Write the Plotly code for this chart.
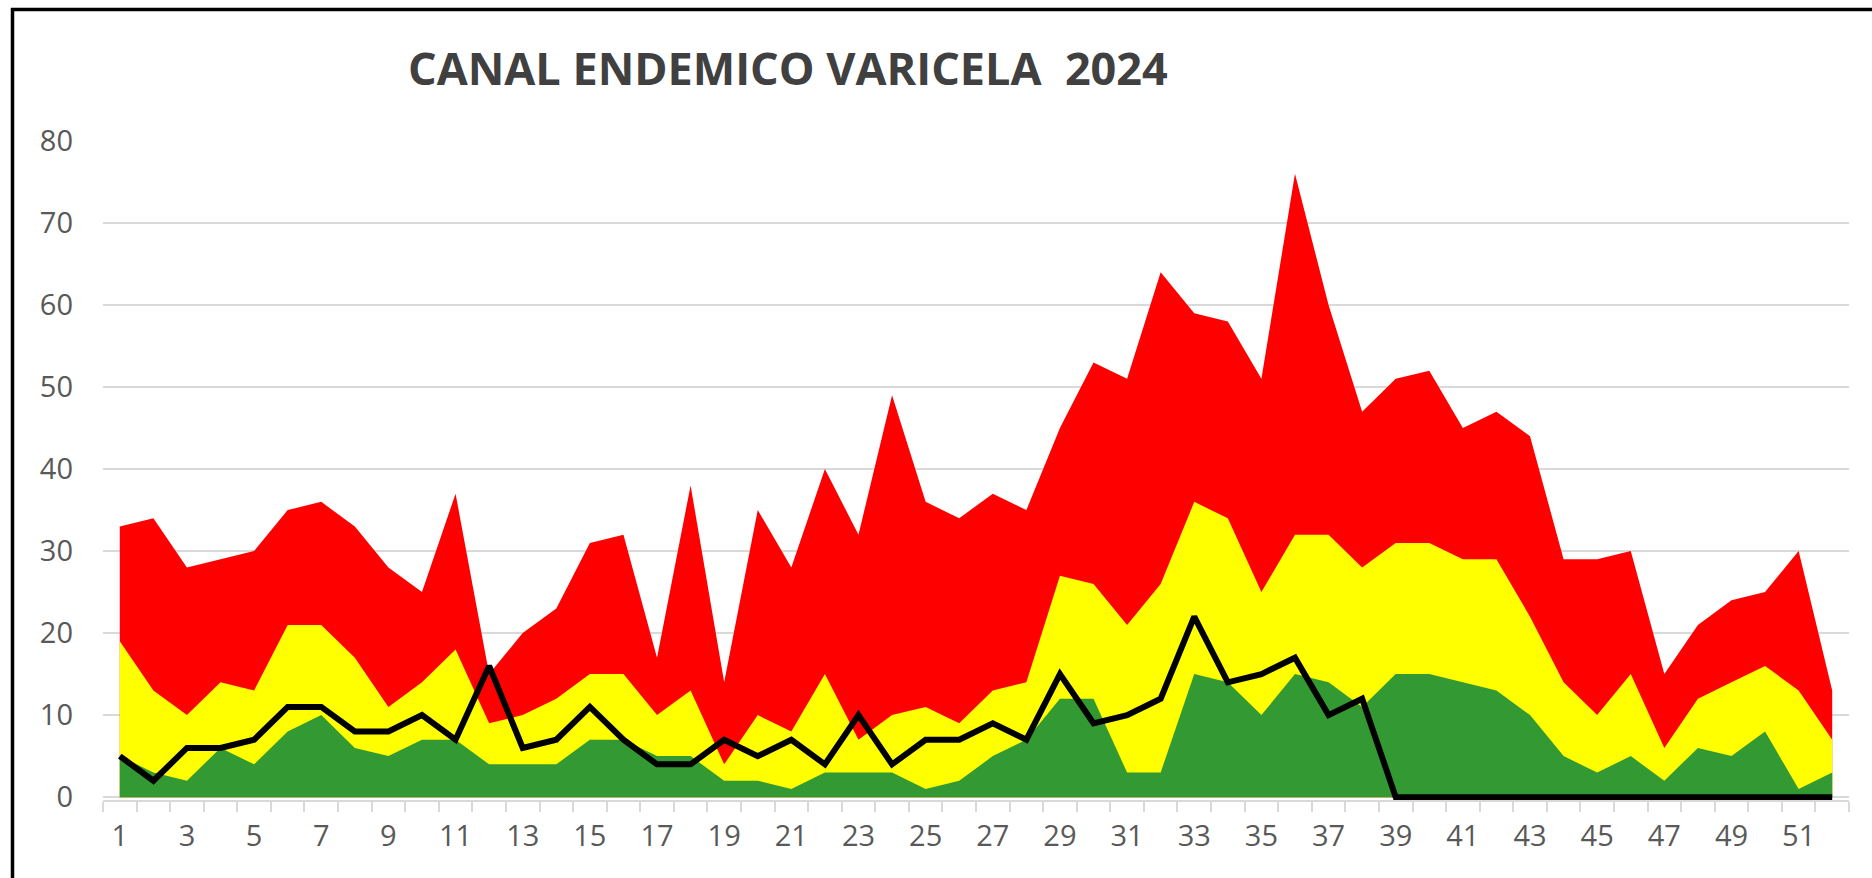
import plotly.graph_objects as go

weeks = list(range(1, 53))
tick_weeks = weeks[::2]

epidemia = [33, 34, 28, 29, 30, 35, 36, 33, 28, 25,
            37, 15, 20, 23, 31, 32, 17, 38, 14, 35,
            28, 40, 32, 49, 36, 34, 37, 35, 45, 53,
            51, 64, 59, 58, 51, 76, 60, 47, 51, 52,
            45, 47, 44, 29, 29, 30, 15, 21, 24, 25,
            30, 13]
alerta = [19, 13, 10, 14, 13, 21, 21, 17, 11, 14,
          18, 9, 10, 12, 15, 15, 10, 13, 4, 10,
          8, 15, 7, 10, 11, 9, 13, 14, 27, 26,
          21, 26, 36, 34, 25, 32, 32, 28, 31, 31,
          29, 29, 22, 14, 10, 15, 6, 12, 14, 16,
          13, 7]
seguridad = [5, 3, 2, 6, 4, 8, 10, 6, 5, 7,
             7, 4, 4, 4, 7, 7, 5, 5, 2, 2,
             1, 3, 3, 3, 1, 2, 5, 7, 12, 12,
             3, 3, 15, 14, 10, 15, 14, 11, 15, 15,
             14, 13, 10, 5, 3, 5, 2, 6, 5, 8,
             1, 3]
casos_2024 = [5, 2, 6, 6, 7, 11, 11, 8, 8, 10,
              7, 16, 6, 7, 11, 7, 4, 4, 7, 5,
              7, 4, 10, 4, 7, 7, 9, 7, 15, 9,
              10, 12, 22, 14, 15, 17, 10, 12, 0, 0,
              0, 0, 0, 0, 0, 0, 0, 0, 0, 0,
              0, 0]

title_text = "CANAL ENDEMICO VARICELA\u00a0 2024"

fig = go.Figure()
for vals, col, name in [(epidemia, "#FF0000", "Epidemia"),
                        (alerta, "#FFFF00", "Alerta"),
                        (seguridad, "#339933", "Seguridad")]:
    fig.add_trace(go.Scatter(x=weeks, y=vals, mode="lines", fill="tozeroy",
                             fillcolor=col, line=dict(width=0, color=col),
                             name=name, hoverinfo="x+y"))
fig.add_trace(go.Scatter(x=weeks, y=casos_2024, mode="lines",
                         line=dict(width=6, color="#000000"),
                         name="Casos 2024"))

tick_font = dict(family="Open Sans", size=29, color="#595959")

fig.update_layout(
    width=1872, height=878,
    paper_bgcolor="white", plot_bgcolor="white",
    margin=dict(l=103, r=23, t=141, b=78),
    showlegend=False,
    font=dict(family="Open Sans"),
    xaxis=dict(range=[0.5, 52.5], tickmode="array", tickvals=tick_weeks,
               ticktext=[str(w) for w in tick_weeks], ticks="",
               showgrid=False, zeroline=False, showline=True,
               linecolor="#d9d9d9", linewidth=1.5, layer="below traces",
               tickfont=tick_font, ticklabelstandoff=9,
               minor=dict(tickmode="array",
                          tickvals=[w - 0.5 for w in weeks] + [weeks[-1] + 0.5],
                          ticks="outside", ticklen=10, tickcolor="#d9d9d9",
                          tickwidth=1.5, showgrid=False)),
    yaxis=dict(range=[-0.35, 80], tickmode="linear", tick0=0, dtick=10,
               showgrid=True, gridcolor="#d9d9d9", gridwidth=1.5,
               zeroline=False, showline=False, ticks="",
               tickfont=tick_font, ticklabelstandoff=29),
    annotations=[dict(text=title_text, xref="paper", yref="paper",
                      x=(788 - 103) / 1746, y=(797 - 68) / 656,
                      xanchor="center", yanchor="middle", showarrow=False,
                      font=dict(family="Open Sans", size=45, color="#404040",
                                weight="bold"))],
    shapes=[
        dict(type="line", xref="paper", yref="paper",
             x0=(12.5 - 103) / 1746, x1=(12.5 - 103) / 1746,
             y0=(797 - 880) / 656, y1=(797 - 8.5) / 656,
             line=dict(color="black", width=3.5)),
        dict(type="line", xref="paper", yref="paper",
             x0=(11 - 103) / 1746, x1=(1875 - 103) / 1746,
             y0=(797 - 10) / 656, y1=(797 - 10) / 656,
             line=dict(color="black", width=3.5)),
    ],
)

fig.write_html("out.html",
               config={"displayModeBar": False},
               post_script="document.body.style.margin='0';"
                           "document.body.style.overflow='hidden';")
